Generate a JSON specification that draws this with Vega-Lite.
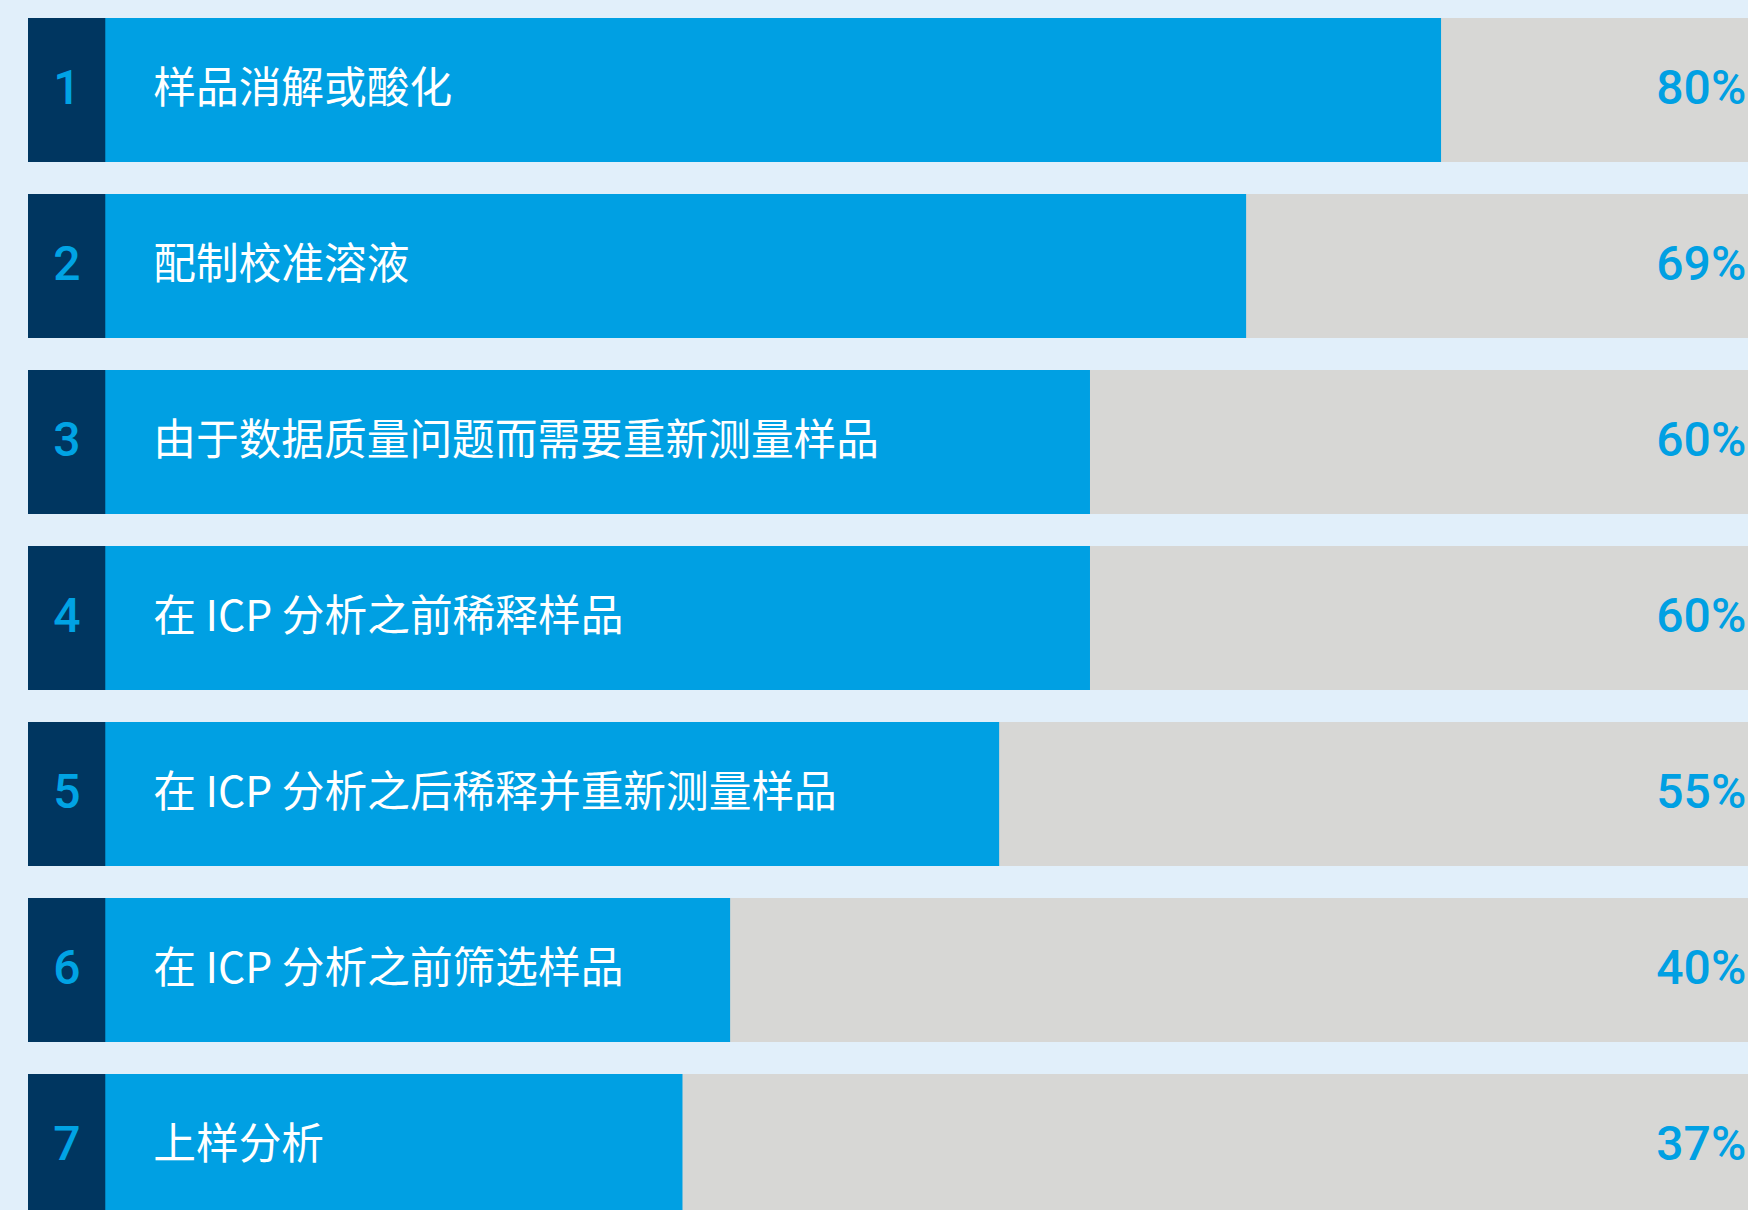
{
  "$schema": "https://vega.github.io/schema/vega-lite/v6.json",
  "autosize": "none",
  "width": 1720,
  "height": 1210,
  "padding": {"left": 28, "top": 0, "right": 0, "bottom": 0},
  "background": "#E1EFFA",
  "config": {"view": {"stroke": null}},
  "data": {
    "values": [
      {"rank": "1", "label": "样品消解或酸化", "value": 80.1, "pct": "80%"},
      {"rank": "2", "label": "配制校准溶液", "value": 69.05, "pct": "69%"},
      {"rank": "3", "label": "由于数据质量问题而需要重新测量样品", "value": 60.2, "pct": "60%"},
      {"rank": "4", "label": "在 ICP 分析之前稀释样品", "value": 60.2, "pct": "60%"},
      {"rank": "5", "label": "在 ICP 分析之后稀释并重新测量样品", "value": 55.05, "pct": "55%"},
      {"rank": "6", "label": "在 ICP 分析之前筛选样品", "value": 39.8, "pct": "40%"},
      {"rank": "7", "label": "上样分析", "value": 37.1, "pct": "37%"}
    ]
  },
  "encoding": {
    "y": {
      "field": "rank",
      "type": "nominal",
      "sort": null,
      "axis": null,
      "scale": {"range": [18, 1218], "paddingInner": 0.1818, "paddingOuter": 0}
    }
  },
  "layer": [
    {
      "mark": {"type": "bar", "color": "#D7D7D5", "clip": true},
      "encoding": {
        "x": {"datum": 100, "type": "quantitative", "scale": {"domain": [0, 97.5], "nice": false, "zero": true}, "axis": null}
      }
    },
    {
      "mark": {"type": "bar", "color": "#00A0E3", "clip": true},
      "encoding": {
        "x": {"field": "value", "type": "quantitative"}
      }
    },
    {
      "mark": {"type": "bar", "color": "#003660", "clip": true},
      "encoding": {
        "x": {"datum": 4.38, "type": "quantitative"}
      }
    },
    {
      "mark": {"type": "text", "color": "#00A3E4", "font": "Roboto", "fontWeight": 500, "fontSize": 48, "align": "center", "baseline": "middle", "clip": true},
      "encoding": {
        "x": {"datum": 2.2, "type": "quantitative"},
        "text": {"field": "rank"}
      }
    },
    {
      "mark": {"type": "text", "color": "#FFFFFF", "font": "Noto Sans CJK SC", "fontSize": 42.7, "align": "left", "baseline": "middle", "clip": true},
      "encoding": {
        "x": {"datum": 7.1, "type": "quantitative"},
        "text": {"field": "label"}
      }
    },
    {
      "mark": {"type": "text", "color": "#00A0E3", "font": "Roboto", "fontWeight": 500, "fontSize": 48, "align": "right", "baseline": "middle", "clip": true},
      "encoding": {
        "x": {"datum": 97.4, "type": "quantitative"},
        "text": {"field": "pct"}
      }
    }
  ]
}
